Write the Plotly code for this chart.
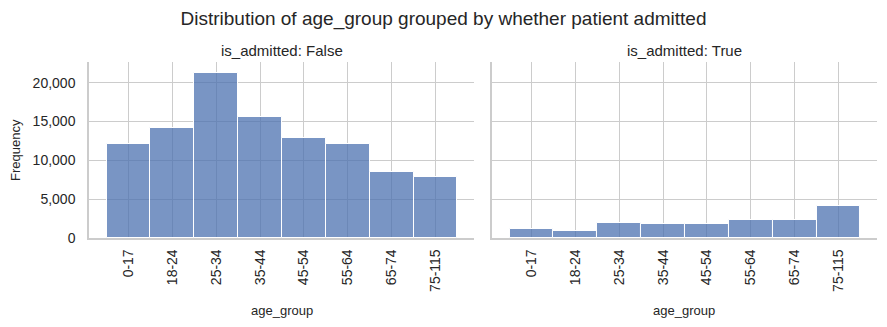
import plotly.graph_objects as go
from plotly.subplots import make_subplots

age_groups = ["0-17", "18-24", "25-34", "35-44", "45-54", "55-64", "65-74", "75-115"]
freq_not_admitted = [12100, 14200, 21300, 15600, 12900, 12100, 8470, 7820]
freq_admitted = [1220, 960, 1870, 1740, 1740, 2380, 2380, 4100]
panel_titles = ["is_admitted: False", "is_admitted: True"]

FONT = "Liberation Sans, Arial, sans-serif"
TXT = "#262626"
GRID = "#cccccc"
BAR = "rgba(76,114,176,0.75)"

fig = make_subplots(rows=1, cols=2, shared_yaxes=True, horizontal_spacing=0.0228,
                    subplot_titles=panel_titles)

for i, vals in enumerate([freq_not_admitted, freq_admitted], start=1):
    fig.add_trace(go.Bar(x=age_groups, y=vals, width=1.0,
                         marker=dict(color=BAR, line=dict(color="white", width=1)),
                         showlegend=False), row=1, col=i)

fig.update_layout(
    width=887, height=327,
    margin=dict(l=89, r=10, t=62, b=89),
    paper_bgcolor="white", plot_bgcolor="white",
    bargap=0,
    font=dict(family=FONT, color=TXT, size=14),
    title=dict(text="Distribution of age_group grouped by whether patient admitted",
               x=0.5, xanchor="center", y=1 - 18 / 327, yanchor="middle",
               font=dict(size=19, color=TXT, family=FONT)),
)
for a in fig.layout.annotations:
    a.font = dict(size=15, color=TXT, family=FONT)
    a.yshift = 1

# axis titles as annotations for precise placement
dom1 = fig.layout.xaxis.domain
dom2 = fig.layout.xaxis2.domain
for d in (dom1, dom2):
    fig.add_annotation(text="age_group", xref="paper", yref="paper",
                       x=(d[0] + d[1]) / 2, y=(238 - 310) / 176,
                       xanchor="center", yanchor="middle", showarrow=False,
                       font=dict(size=13, color=TXT, family=FONT))
fig.add_annotation(text="Frequency", xref="paper", yref="paper",
                   x=(15 - 89) / 788, y=0.5, textangle=-90,
                   xanchor="center", yanchor="middle", showarrow=False,
                   font=dict(size=13, color=TXT, family=FONT))

fig.update_xaxes(type="category", range=[-0.9, 7.88], tickangle=-90,
                 showgrid=True, gridcolor=GRID, gridwidth=1,
                 showline=True, linecolor=GRID, linewidth=1.5,
                 ticks="", tickfont=dict(size=14, color=TXT), ticklabelstandoff=4,
                 zeroline=False)
fig.update_yaxes(range=[0, 22670], tickvals=[0, 5000, 10000, 15000, 20000],
                 tickformat=",", showgrid=True, gridcolor=GRID, gridwidth=1,
                 showline=True, linecolor=GRID, linewidth=1.5, ticks="",
                 tickfont=dict(size=14, color=TXT), ticklabelstandoff=9,
                 zeroline=False)
fig.update_yaxes(showticklabels=False, row=1, col=2)

fig.write_html("out.html")
